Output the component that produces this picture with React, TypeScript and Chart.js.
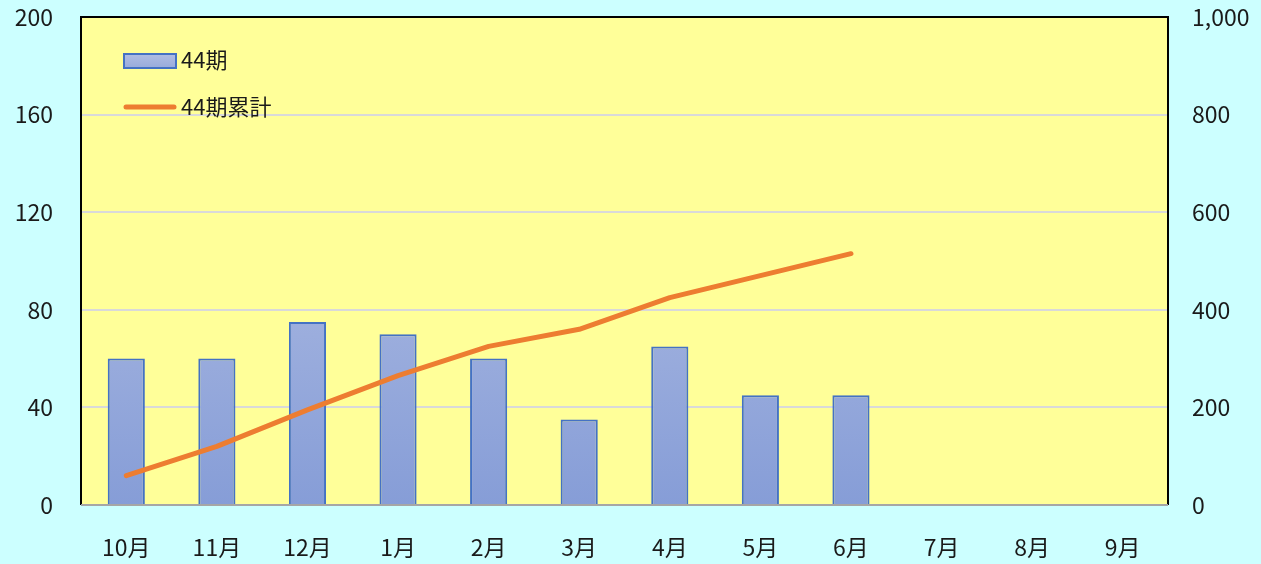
import React, { useEffect, useRef } from "react";
import { Chart, registerables } from "chart.js";

Chart.register(...registerables);

const categories = ["10月", "11月", "12月", "1月", "2月", "3月", "4月", "5月", "6月", "7月", "8月", "9月"];
const monthly = [60, 60, 75, 70, 60, 35, 65, 45, 45, null, null, null];
const cumulative = [60, 120, 195, 265, 325, 360, 425, 470, 515, null, null, null];
const barLabel = "44期";
const lineLabel = "44期累計";

const FONT = '"Noto Sans CJK JP", "Noto Sans", sans-serif';

const plotPlugin = {
  id: "plotDeco",
  beforeDraw(chart: any) {
    const { ctx, chartArea: a } = chart;
    ctx.save();
    ctx.fillStyle = "#ccffff";
    ctx.fillRect(0, 0, chart.width, chart.height);
    ctx.fillStyle = "#ffff99";
    ctx.fillRect(a.left, a.top, a.right - a.left, a.bottom - a.top);
    ctx.restore();
  },
  afterDraw(chart: any) {
    const { ctx, chartArea: a } = chart;
    ctx.save();
    ctx.strokeStyle = "#000";
    ctx.lineWidth = 2;
    ctx.beginPath();
    ctx.moveTo(a.left, a.bottom);
    ctx.lineTo(a.left, a.top);
    ctx.lineTo(a.right, a.top);
    ctx.lineTo(a.right, a.bottom);
    ctx.stroke();
    ctx.strokeStyle = "#a6a6a6";
    ctx.beginPath();
    ctx.moveTo(a.left, a.bottom);
    ctx.lineTo(a.right, a.bottom);
    ctx.stroke();

    // legend
    const lx = a.left + 43;
    const g = ctx.createLinearGradient(0, 54, 0, 68);
    g.addColorStop(0, "#b0bde3");
    g.addColorStop(1, "#98abdc");
    ctx.fillStyle = g;
    ctx.fillRect(lx, 54, 52, 14);
    ctx.strokeStyle = "#4472c4";
    ctx.lineWidth = 2;
    ctx.strokeRect(lx, 54, 52, 14);
    ctx.strokeStyle = "#ed7d31";
    ctx.lineWidth = 5;
    ctx.lineCap = "round";
    ctx.beginPath();
    ctx.moveTo(lx + 2, 107);
    ctx.lineTo(lx + 50, 107);
    ctx.stroke();
    ctx.fillStyle = "#1a1a1a";
    ctx.font = "22px " + FONT;
    ctx.textBaseline = "middle";
    ctx.textAlign = "left";
    ctx.fillText(barLabel, lx + 57, 60);
    ctx.fillText(lineLabel, lx + 57, 107);
    ctx.restore();
  },
};

const noPad = (w: number) => (s: any) => {
  s.width = w;
  s.paddingTop = 0;
  s.paddingBottom = 0;
};

export default function App() {
  const ref = useRef<HTMLCanvasElement | null>(null);
  useEffect(() => {
    document.body.style.margin = "0";
    const canvas = ref.current!;
    const chart = new Chart(canvas, {
      type: "bar",
      data: {
        labels: categories,
        datasets: [
          {
            type: "line",
            label: lineLabel,
            data: cumulative as any,
            yAxisID: "y2",
            borderColor: "#ed7d31",
            borderWidth: 5,
            pointRadius: 0,
            borderCapStyle: "round",
            borderJoinStyle: "round",
            tension: 0,
            order: 0,
          } as any,
          {
            type: "bar",
            label: barLabel,
            data: monthly as any,
            yAxisID: "y",
            backgroundColor: (c: any) => {
              const a = c.chart.chartArea;
              if (!a) return "#9aaedd";
              const g = c.chart.ctx.createLinearGradient(0, a.top + 150, 0, a.bottom);
              g.addColorStop(0, "#b0bde3");
              g.addColorStop(1, "#869dd7");
              return g;
            },
            borderColor: "#4472c4",
            borderWidth: 2,
            borderSkipped: "bottom",
            barPercentage: 0.41,
            categoryPercentage: 1,
            order: 1,
          } as any,
        ],
      },
      options: {
        responsive: false,
        animation: false,
        layout: { padding: { top: 17, left: 0, right: 0, bottom: 0 } },
        plugins: { legend: { display: false }, tooltip: { enabled: false } },
        scales: {
          x: {
            grid: { display: false, drawTicks: false },
            border: { display: false },
            ticks: { color: "#1a1a1a", font: { size: 23, family: FONT }, padding: 28, maxRotation: 0 },
            afterFit: (s: any) => { s.height = 59; s.paddingLeft = 0; s.paddingRight = 0; },
          },
          y: {
            position: "left",
            min: 0,
            max: 200,
            ticks: { stepSize: 40, color: "#1a1a1a", font: { size: 23, family: FONT }, padding: 28 },
            grid: { color: "#d9d9d9", lineWidth: 2, drawTicks: false },
            border: { display: false },
            afterFit: noPad(81),
          },
          y2: {
            position: "right",
            min: 0,
            max: 1000,
            ticks: {
              stepSize: 200,
              color: "#1a1a1a",
              font: { size: 23, family: FONT },
              padding: 24,
              callback: (v: any) => Number(v).toLocaleString("en-US"),
            },
            grid: { display: false, drawTicks: false },
            border: { display: false },
            afterFit: noPad(93),
          },
        },
      },
      plugins: [plotPlugin],
    });
    return () => chart.destroy();
  }, []);
  return (
    <div style={{ width: 1261, height: 564 }}>
      <canvas ref={ref} width={1261} height={564} />
    </div>
  );
}
